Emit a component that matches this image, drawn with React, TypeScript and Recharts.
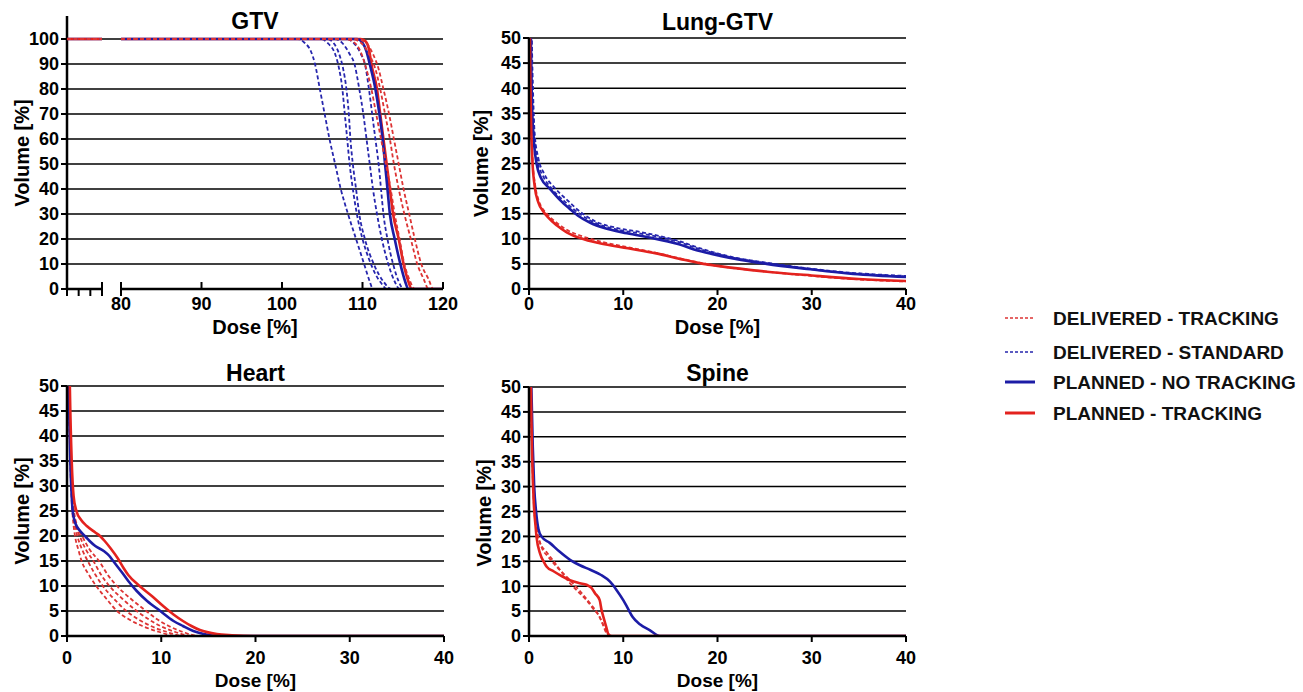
import React from 'react';
import { LineChart, Line, XAxis, YAxis, CartesianGrid } from 'recharts';

type P = [number, number];
type Kind = 'dt' | 'ds' | 'pn' | 'pt';
type Series = { kind: Kind; pts: P[] };

// ---------- tick labels ----------
const gtvYTicks = [0, 10, 20, 30, 40, 50, 60, 70, 80, 90, 100];
const gtvGridValues = [10, 20, 30, 40, 50, 60, 70, 80, 90, 100];
const gtvXTicks = [80, 90, 100, 110, 120];
const gtvBreakTicks = [0, 10, 20, 30];
const organYTicks = [0, 5, 10, 15, 20, 25, 30, 35, 40, 45, 50];
const organGridValues = [5, 10, 15, 20, 25, 30, 35, 40, 45, 50];
const organXTicks = [0, 10, 20, 30, 40];

// ---------- GTV (dose %, volume %) ----------
const gtvPlannedTracking: P[] = [[0,100],[109.8,100],[110.4,99],[110.8,96],[111.1,90],[111.8,80],[112.2,70],[112.6,60],[113.0,50],[113.4,40],[113.8,30],[114.5,20],[115.1,10],[115.7,3],[116.1,0],[125,0]];
const gtvPlannedNoTracking: P[] = [[0,100],[109.3,100],[110.0,98.5],[110.5,95],[110.9,90],[111.6,80],[112.1,70],[112.5,60],[112.8,50],[113.1,40],[113.4,30],[114.0,20],[114.7,10],[115.3,3],[115.7,0],[125,0]];
const gtvDeliveredTracking1: P[] = [[0,100],[107.8,100],[108.8,99],[109.6,96],[110.3,90],[111.1,80],[111.7,70],[112.3,60],[112.9,50],[113.5,40],[114.0,30],[114.6,20],[115.2,10],[115.8,4],[116.5,0],[125,0]];
const gtvDeliveredTracking2: P[] = [[0,100],[108.6,100],[109.8,98.5],[110.8,94],[111.6,88],[112.2,80],[112.8,70],[113.4,60],[113.9,50],[114.5,40],[115.2,30],[116.0,20],[116.8,10],[117.6,4],[118.2,0],[125,0]];
const gtvDeliveredTracking3: P[] = [[0,100],[109.2,100],[110.4,98.5],[111.3,94],[112.0,88],[112.6,80],[113.3,70],[113.9,60],[114.5,50],[115.1,40],[115.8,30],[116.5,20],[117.3,10],[118.2,4],[118.8,0],[125,0]];
const gtvDeliveredStandard1: P[] = [[0,100],[102.0,100],[102.8,98.5],[103.6,95],[104.1,90],[104.7,80],[105.3,70],[105.9,60],[106.6,50],[107.3,40],[108.2,30],[109.2,20],[110.2,10],[110.9,3],[111.3,0],[125,0]];
const gtvDeliveredStandard2: P[] = [[0,100],[105.6,100],[106.5,98],[107.2,93],[107.6,88],[108.0,80],[108.3,70],[108.5,60],[108.8,50],[109.2,40],[109.6,30],[110.3,20],[111.4,10],[112.6,3],[113.6,0],[125,0]];
const gtvDeliveredStandard3: P[] = [[0,100],[106.6,100],[107.6,98],[108.4,94],[109.0,90],[109.6,80],[110.1,70],[110.5,60],[110.9,50],[111.3,40],[111.8,30],[112.4,20],[113.2,10],[114.0,3],[114.6,0],[125,0]];
const gtvDeliveredStandard4: P[] = [[0,100],[108.0,100],[109.0,98],[109.8,94],[110.3,90],[110.8,80],[111.2,70],[111.6,60],[112.0,50],[112.3,40],[112.6,30],[113.1,20],[113.8,10],[114.5,3],[115.1,0],[125,0]];
const gtvDeliveredStandard5: P[] = [[0,100],[104.8,100],[105.8,98],[106.6,94],[107.1,88],[107.5,80],[107.8,70],[108.1,60],[108.4,50],[108.8,40],[109.3,30],[110.0,20],[110.8,12],[111.6,6],[112.4,2],[113.0,0],[125,0]];

// ---------- Lung-GTV ----------
const lungPlannedNoTracking: P[] = [[0,100],[0.1,70],[0.2,50],[0.3,38],[0.5,30],[0.8,25],[1.3,22],[2.2,20],[3.3,17.7],[4.3,16],[5.2,14.6],[6.5,13.2],[7.9,12.2],[10.4,11.1],[13.2,10.1],[15.7,9],[18,7.6],[20.3,6.6],[22.5,5.8],[25.2,5],[29.5,4],[34.4,3],[40,2.4]];
const lungDeliveredStandard1: P[] = [[0,100],[0.15,70],[0.3,50],[0.45,38],[0.6,31],[1,26],[1.6,23],[2.7,20.2],[4,17.8],[5.7,15],[7,13.5],[9.5,12.1],[12,11.3],[14,10.5],[16,9.5],[18,8.2],[20,7.1],[22,6.2],[25,5.3],[28,4.5],[32,3.6],[36,3.0],[40,2.6]];
const lungDeliveredStandard2: P[] = [[0,100],[0.12,70],[0.25,50],[0.4,38],[0.55,31],[0.9,25.5],[1.5,22.5],[2.5,19.8],[3.8,17.4],[5.5,14.8],[7,13.2],[9.5,11.8],[12,11],[14,10.3],[16,9.3],[18,8],[20,7],[22,6.1],[25,5.2],[28,4.4],[32,3.5],[36,2.9],[40,2.5]];
const lungPlannedTracking: P[] = [[0,100],[0.05,70],[0.1,50],[0.2,35],[0.35,26],[0.6,20.5],[1.0,17.2],[1.5,15.5],[2.0,14.3],[3,12.6],[4,11.3],[5.5,10.1],[7.5,9.1],[10.5,8.1],[13.5,7.1],[16,6.0],[18.5,5.0],[20,4.6],[25,3.5],[30,2.7],[35,2.0],[40,1.6]];
const lungDeliveredTracking: P[] = [[0,100],[0.06,70],[0.12,50],[0.22,35],[0.38,26],[0.65,20.8],[1.0,17.8],[2,14.8],[3,13.1],[4,11.8],[5.5,10.6],[7.5,9.5],[10.5,8.3],[13.5,7.2],[16,6.1],[18.5,5.1],[20,4.6],[25,3.5],[30,2.6],[35,1.9],[40,1.5]];

// ---------- Heart ----------
const heartPlannedTracking: P[] = [[0,100],[0.15,70],[0.3,50],[0.5,35],[0.7,28],[1.0,25],[1.5,23.2],[2.1,22],[3,20.7],[3.5,20],[4,19],[4.6,17.6],[5.4,15.5],[6,13.6],[6.5,12.2],[7.7,10],[9,8],[10.2,6],[11.3,4.3],[12.3,3],[13.2,2],[14.1,1.2],[15.9,0.4],[17.5,0.15],[19.8,0],[40,0]];
const heartPlannedNoTracking: P[] = [[0,100],[0.1,70],[0.2,50],[0.35,35],[0.5,28],[0.6,25],[0.9,22.5],[1.4,21],[2,19.8],[2.4,19],[3,18],[3.9,17],[4.5,16],[4.9,15],[5.8,12.8],[6.5,11],[7.4,9],[8.5,7],[9.9,5],[11.3,3],[12.3,2],[13.4,1],[14.5,0.4],[16.2,0],[40,0]];
const heartDeliveredTracking1: P[] = [[0,100],[0.1,70],[0.2,50],[0.35,35],[0.5,27],[0.65,23],[0.85,20],[1.2,17.3],[1.55,15],[2.3,12.3],[3.1,10],[4.2,7.4],[5.3,5],[6.6,3.3],[8.0,2],[9.8,0.8],[11.6,0],[40,0]];
const heartDeliveredTracking2: P[] = [[0,100],[0.1,70],[0.22,50],[0.38,35],[0.55,27],[0.8,22.5],[1.1,20],[1.6,17.3],[2.2,15],[3.0,12.3],[3.8,10],[5.0,7.4],[6.3,5],[7.6,3.3],[8.9,2],[10.6,0.8],[12.4,0],[40,0]];
const heartDeliveredTracking3: P[] = [[0,100],[0.1,70],[0.24,50],[0.4,35],[0.6,27],[0.9,22.5],[1.35,20],[2.0,17.3],[2.8,15],[3.6,12.3],[4.5,10],[5.9,7.4],[7.4,5],[8.7,3.3],[9.9,2],[11.5,0.8],[13.2,0],[40,0]];
const heartDeliveredTracking4: P[] = [[0,100],[0.12,70],[0.26,50],[0.42,35],[0.65,27],[1.0,22.5],[1.6,20],[2.4,17.3],[3.4,15],[4.3,12.3],[5.3,10],[6.8,7.4],[8.4,5],[9.6,3.3],[10.8,2],[12.3,0.8],[14.0,0],[40,0]];

// ---------- Spine ----------
const spinePlannedNoTracking: P[] = [[0,100],[0.1,70],[0.25,50],[0.4,38],[0.55,30],[0.75,25],[1.0,21.5],[1.35,19.9],[2.2,18.7],[3.2,17.0],[4.35,15.3],[5.4,14.2],[6.5,13.3],[7.6,12.3],[8.6,10.9],[9.3,9.2],[10,7.2],[10.5,5.5],[11,3.8],[11.8,2.3],[12.8,1.2],[13.9,0],[40,0]];
const spinePlannedTracking: P[] = [[0,100],[0.1,70],[0.2,50],[0.35,35],[0.5,27],[0.7,22],[0.8,19.9],[1.17,16.6],[1.6,14.8],[1.88,13.9],[2.6,13.0],[3.5,12.0],[4.35,11.2],[5.4,10.6],[6.1,10.3],[6.6,9.7],[7.0,8.6],[7.5,7.2],[7.7,5.2],[7.9,3.8],[8.2,1.8],[8.5,0],[40,0]];
const spineDeliveredTracking1: P[] = [[0,100],[0.1,70],[0.2,50],[0.35,35],[0.5,27],[0.75,22],[1.17,18.7],[1.8,17],[2.5,15.3],[3.4,13],[4.35,10.6],[5.2,8.9],[6.1,7.2],[6.8,5.5],[7.5,3.8],[7.9,2.0],[8.2,0.6],[8.6,0],[40,0]];
const spineDeliveredTracking2: P[] = [[0,100],[0.1,70],[0.22,50],[0.38,35],[0.55,27],[0.85,21.5],[1.3,18],[2,16],[3,13.8],[4.35,11.2],[5.5,8.8],[6.5,6.5],[7.3,4.5],[7.9,2.2],[8.4,0.5],[8.8,0],[40,0]];

const gtvSeries: Series[] = [
  { kind: 'ds', pts: gtvDeliveredStandard1 },
  { kind: 'ds', pts: gtvDeliveredStandard5 },
  { kind: 'ds', pts: gtvDeliveredStandard2 },
  { kind: 'ds', pts: gtvDeliveredStandard3 },
  { kind: 'ds', pts: gtvDeliveredStandard4 },
  { kind: 'pt', pts: gtvPlannedTracking },
  { kind: 'pn', pts: gtvPlannedNoTracking },
  { kind: 'dt', pts: gtvDeliveredTracking1 },
  { kind: 'dt', pts: gtvDeliveredTracking2 },
  { kind: 'dt', pts: gtvDeliveredTracking3 },
];
// in the low-dose segment the red dashed curves lie on top
const gtvLowSeries: Series[] = [
  { kind: 'pn', pts: gtvPlannedNoTracking },
  { kind: 'pt', pts: gtvPlannedTracking },
  { kind: 'ds', pts: gtvDeliveredStandard1 },
  { kind: 'dt', pts: gtvDeliveredTracking1 },
];
const lungSeries: Series[] = [
  { kind: 'ds', pts: lungDeliveredStandard1 },
  { kind: 'ds', pts: lungDeliveredStandard2 },
  { kind: 'dt', pts: lungDeliveredTracking },
  { kind: 'pn', pts: lungPlannedNoTracking },
  { kind: 'pt', pts: lungPlannedTracking },
];
const heartSeries: Series[] = [
  { kind: 'dt', pts: heartDeliveredTracking1 },
  { kind: 'dt', pts: heartDeliveredTracking2 },
  { kind: 'dt', pts: heartDeliveredTracking3 },
  { kind: 'dt', pts: heartDeliveredTracking4 },
  { kind: 'pn', pts: heartPlannedNoTracking },
  { kind: 'pt', pts: heartPlannedTracking },
];
const spineSeries: Series[] = [
  { kind: 'dt', pts: spineDeliveredTracking1 },
  { kind: 'dt', pts: spineDeliveredTracking2 },
  { kind: 'pn', pts: spinePlannedNoTracking },
  { kind: 'pt', pts: spinePlannedTracking },
];

const legendItems: { kind: Kind; label: string }[] = [
  { kind: 'dt', label: 'DELIVERED - TRACKING' },
  { kind: 'ds', label: 'DELIVERED - STANDARD' },
  { kind: 'pn', label: 'PLANNED - NO TRACKING' },
  { kind: 'pt', label: 'PLANNED - TRACKING' },
];

// ---------- styling ----------
const FONT = "'Liberation Sans', Arial, Helvetica, sans-serif";
const RED = '#e3221e';
const BLUE = '#1c1ca6';
const lineStyle: Record<Kind, { stroke: string; strokeWidth: number; strokeDasharray?: string }> = {
  dt: { stroke: '#dd3434', strokeWidth: 1.8, strokeDasharray: '4 2.5' },
  ds: { stroke: '#2626ad', strokeWidth: 1.8, strokeDasharray: '4 2.5' },
  pn: { stroke: BLUE, strokeWidth: 2.6 },
  pt: { stroke: RED, strokeWidth: 2.6 },
};
const tickStyle = { fontSize: 18, fontWeight: 700, fill: '#000', fontFamily: FONT };
const axisLineStyle = { stroke: '#000', strokeWidth: 2.5 };
const tickLineStyle = { stroke: '#000', strokeWidth: 2 };
const TICK_SIZE = 6;
const TICK_GAP_TOP = 2;

// GTV main segment ticks: inner ticks point up, the segment start is a cap crossing the axis
const GtvMainTick = (props: any) => {
  const { x, y, payload } = props;
  const axisY = y - TICK_SIZE - TICK_GAP_TOP;
  const cap = payload.value === gtvXTicks[0];
  return (
    <g>
      <line x1={x} x2={x} y1={cap ? axisY + 7 : axisY} y2={axisY - 7} stroke="#000" strokeWidth={2} />
      <text x={x} y={y} dy="0.71em" textAnchor="middle" fontSize={tickStyle.fontSize} fontWeight={700}
        fontFamily={FONT} fill="#000">{payload.value}</text>
    </g>
  );
};
// GTV low-dose segment ticks: small ticks down, segment end is a cap crossing the axis
const GtvBreakTick = (props: any) => {
  const { x, y, payload } = props;
  const axisY = y - TICK_SIZE - TICK_GAP_TOP;
  const cap = payload.value === gtvBreakTicks[gtvBreakTicks.length - 1];
  return <line x1={x} x2={x} y1={cap ? axisY - 7 : axisY} y2={axisY + 7} stroke="#000" strokeWidth={2} />;
};

const toRows = (pts: P[]) => pts.map(([d, v]) => ({ d, v }));

const renderLines = (series: Series[]) =>
  series.map((s, i) => (
    <Line
      key={i}
      data={toRows(s.pts)}
      dataKey="v"
      type="monotone"
      dot={false}
      activeDot={false}
      isAnimationActive={false}
      strokeLinecap="butt"
      {...lineStyle[s.kind]}
    />
  ));

const abs = (left: number, top: number): React.CSSProperties => ({ position: 'absolute', left, top });

function OrganPanel({ left, top, height, marginTop, marginRight, yWidth, xHeight, tickGap, series }: {
  left: number; top: number; height: number; marginTop: number; marginRight: number; yWidth: number; xHeight: number; tickGap: number; series: Series[];
}) {
  return (
    <div style={abs(left, top)}>
      <LineChart width={460} height={height} margin={{ top: marginTop, right: marginRight, bottom: 0, left: 0 }}>
        <CartesianGrid vertical={false} horizontalValues={organGridValues} stroke="#000" strokeWidth={1.5} />
        <XAxis dataKey="d" type="number" domain={[0, 40]} ticks={organXTicks} interval={0} allowDataOverflow
          height={xHeight} tickSize={TICK_SIZE} tickMargin={tickGap} axisLine={axisLineStyle} tickLine={tickLineStyle} tick={tickStyle} />
        <YAxis type="number" domain={[0, 50]} ticks={organYTicks} interval={0} allowDataOverflow
          width={yWidth} tickSize={TICK_SIZE} tickMargin={2} axisLine={axisLineStyle} tickLine={tickLineStyle} tick={tickStyle} />
        {renderLines(series)}
      </LineChart>
    </div>
  );
}

export default function App() {
  const GTV_TOP = 109.2;
  return (
    <div style={{ position: 'absolute', left: 0, top: 0, width: 1303, height: 692, background: '#fff', fontFamily: FONT }}>
      {/* GTV: background grid + y axis */}
      <div style={abs(0, 0)}>
        <LineChart width={460} height={320} margin={{ top: 16, right: 17, bottom: 0, left: 0 }}>
          <CartesianGrid vertical={false} horizontalValues={gtvGridValues} stroke="#000" strokeWidth={1.5} />
          <XAxis dataKey="d" type="number" domain={[0, 1]} height={31} axisLine={false} tickLine={false} tick={false} />
          <YAxis type="number" domain={[0, GTV_TOP]} ticks={gtvYTicks} interval={0} width={67}
            tickSize={TICK_SIZE} tickMargin={2} axisLine={axisLineStyle} tickLine={tickLineStyle} tick={tickStyle} />
          <Line data={toRows(gtvPlannedTracking)} dataKey="v" stroke="none" dot={false} activeDot={false} isAnimationActive={false} />
        </LineChart>
      </div>
      {/* GTV: broken low-dose segment */}
      <div style={abs(0, 0)}>
        <LineChart width={460} height={320} margin={{ top: 16, right: 358, bottom: 0, left: 67 }}>
          <XAxis dataKey="d" type="number" domain={[0, 30]} ticks={gtvBreakTicks} interval={0} allowDataOverflow
            height={31} tickSize={TICK_SIZE} tickMargin={TICK_GAP_TOP} axisLine={axisLineStyle} tickLine={false} tick={GtvBreakTick} />
          <YAxis type="number" domain={[0, GTV_TOP]} width={0} axisLine={false} tickLine={false} tick={false} allowDataOverflow />
          {renderLines(gtvLowSeries)}
        </LineChart>
      </div>
      {/* GTV: main segment 80-120 */}
      <div style={abs(0, 0)}>
        <LineChart width={460} height={320} margin={{ top: 16, right: 17, bottom: 0, left: 121 }}>
          <XAxis dataKey="d" type="number" domain={[80, 120]} ticks={gtvXTicks} interval={0} allowDataOverflow
            height={31} tickSize={TICK_SIZE} tickMargin={TICK_GAP_TOP} axisLine={axisLineStyle} tickLine={false} tick={GtvMainTick} />
          <YAxis type="number" domain={[0, GTV_TOP]} width={0} axisLine={false} tickLine={false} tick={false} allowDataOverflow />
          {renderLines(gtvSeries)}
        </LineChart>
      </div>

      <OrganPanel left={460} top={0} height={320} marginTop={38} marginRight={14} yWidth={69} xHeight={31} tickGap={2} series={lungSeries} />
      <OrganPanel left={0} top={340} height={352} marginTop={46} marginRight={16} yWidth={67} xHeight={56} tickGap={9} series={heartSeries} />
      <OrganPanel left={460} top={340} height={352} marginTop={47} marginRight={14} yWidth={69} xHeight={56} tickGap={9} series={spineSeries} />

      <svg width={1303} height={692} style={{ position: 'absolute', left: 0, top: 0, pointerEvents: 'none' }}>
        <g fontFamily={FONT} fontWeight={700} fill="#000">
          <text x={255} y={29} fontSize={23} textAnchor="middle">GTV</text>
          <text x={717.5} y={30} fontSize={23} textAnchor="middle">Lung-GTV</text>
          <text x={255.5} y={381} fontSize={23} textAnchor="middle">Heart</text>
          <text x={717.5} y={381} fontSize={23} textAnchor="middle">Spine</text>

          <text x={22} y={153} fontSize={20} textAnchor="middle" dy="0.35em" transform="rotate(-90 22 153)">Volume [%]</text>
          <text x={481} y={163.5} fontSize={20} textAnchor="middle" dy="0.35em" transform="rotate(-90 481 163.5)">Volume [%]</text>
          <text x={22} y={511} fontSize={20} textAnchor="middle" dy="0.35em" transform="rotate(-90 22 511)">Volume [%]</text>
          <text x={484} y={513} fontSize={20} textAnchor="middle" dy="0.35em" transform="rotate(-90 484 513)">Volume [%]</text>

          <text x={255} y={334} fontSize={20} textAnchor="middle">Dose [%]</text>
          <text x={717.5} y={334} fontSize={20} textAnchor="middle">Dose [%]</text>
          <text x={255.5} y={687} fontSize={19} textAnchor="middle">Dose [%]</text>
          <text x={717.5} y={687} fontSize={19} textAnchor="middle">Dose [%]</text>
        </g>
        <g fontFamily={FONT} fontWeight={700} fill="#111">
          {legendItems.map((it, i) => {
            const y = [318, 352, 382, 413][i];
            const st = lineStyle[it.kind];
            const dashed = !!st.strokeDasharray;
            return (
              <g key={it.label}>
                <line x1={1005} x2={1035} y1={y} y2={y} stroke={st.stroke}
                  strokeWidth={dashed ? 1.6 : 3} strokeDasharray={dashed ? '3 2' : undefined} />
                <text x={1053} y={y} dy="0.36em" fontSize={19}>{it.label}</text>
              </g>
            );
          })}
        </g>
      </svg>
    </div>
  );
}
